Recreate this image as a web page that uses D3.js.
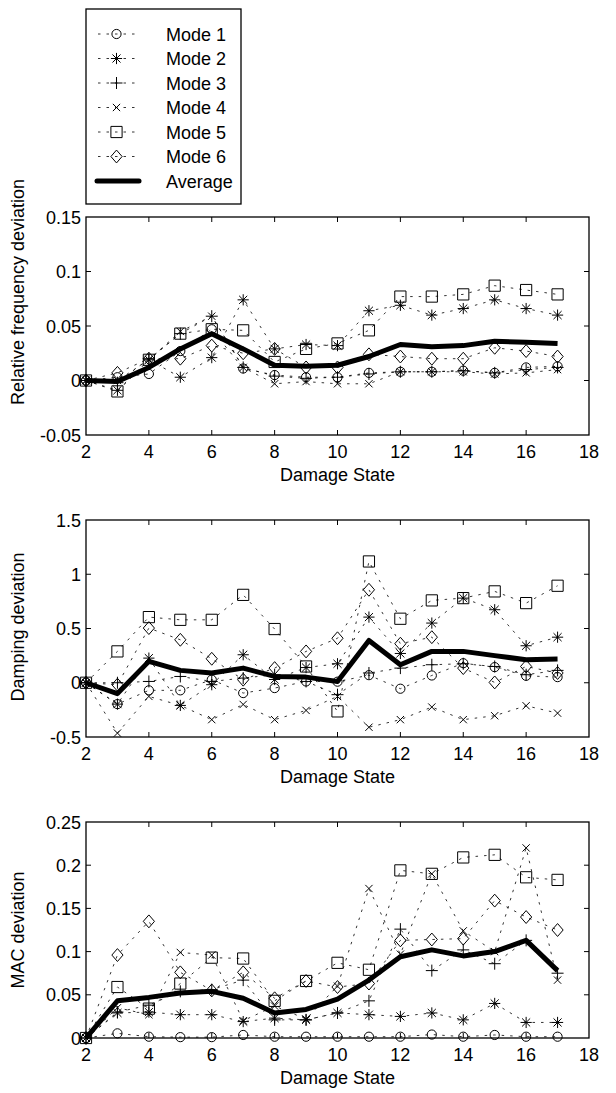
<!DOCTYPE html>
<html>
<head>
<meta charset="utf-8">
<script src="https://cdn.jsdelivr.net/npm/d3@7"></script>
<style>
  body { margin: 0; background: #fff; }
  svg text { font-family: "Liberation Sans", Arial, sans-serif; fill: #000; }
</style>
</head>
<body>
<svg id="chart" width="616" height="1093"></svg>
<script>
// damage states on the x axis
const states = [2, 3, 4, 5, 6, 7, 8, 9, 10, 11, 12, 13, 14, 15, 16, 17]
const xTicks = [2, 4, 6, 8, 10, 12, 14, 16, 18]
const modeNames = ['Mode 1', 'Mode 2', 'Mode 3', 'Mode 4', 'Mode 5', 'Mode 6']

// relative frequency deviation
const freqMode1 = [0, 0.003, 0.006, 0.027, 0.047, 0.011, 0.005, 0.003, 0.003, 0.007, 0.008, 0.008, 0.009, 0.007, 0.012, 0.013]
const freqMode2 = [0, -0.009, 0.019, 0.003, 0.021, 0.074, 0.029, 0.033, 0.032, 0.064, 0.069, 0.060, 0.066, 0.074, 0.066, 0.060]
const freqMode3 = [0, -0.002, 0.020, 0.043, 0.059, 0.012, 0.004, 0.002, 0.003, 0.006, 0.008, 0.008, 0.009, 0.007, 0.010, 0.012]
const freqMode4 = [0, 0, 0.019, 0.045, 0.059, 0.012, -0.003, -0.001, -0.003, -0.003, 0.008, 0.008, 0.008, 0.006, 0.007, 0.010]
const freqMode5 = [0, -0.010, 0.019, 0.043, 0.047, 0.046, 0.017, 0.029, 0.034, 0.046, 0.077, 0.077, 0.079, 0.087, 0.083, 0.079]
const freqMode6 = [0, 0.007, 0.020, 0.020, 0.032, 0.025, 0.029, 0.012, 0.012, 0.024, 0.022, 0.020, 0.020, 0.030, 0.027, 0.022]
const freqAvg = [0, -0.001, 0.012, 0.029, 0.043, 0.029, 0.014, 0.013, 0.014, 0.022, 0.033, 0.031, 0.032, 0.036, 0.035, 0.034]
const freqTicks = [-0.05, 0, 0.05, 0.1, 0.15]

// damping deviation
const dampMode1 = [0, -0.197, -0.07, -0.07, 0.028, -0.095, -0.049, 0.012, 0.010, 0.070, -0.055, 0.067, 0.180, 0.144, 0.064, 0.052]
const dampMode2 = [0, -0.197, 0.227, -0.209, -0.018, 0.258, 0.030, 0.140, 0.175, 0.605, 0.270, 0.550, 0.780, 0.673, 0.341, 0.420]
const dampMode3 = [0, 0, 0.012, 0.058, 0.012, 0.043, 0.074, 0.012, -0.110, 0.090, 0.135, 0.166, 0.175, 0.150, 0.074, 0.114]
const dampMode4 = [0, -0.464, -0.126, -0.209, -0.340, -0.200, -0.340, -0.255, -0.126, -0.410, -0.340, -0.224, -0.340, -0.304, -0.212, -0.280]
const dampMode5 = [0, 0.289, 0.605, 0.580, 0.580, 0.810, 0.495, 0.150, -0.264, 1.118, 0.590, 0.759, 0.780, 0.842, 0.734, 0.894]
const dampMode6 = [0, -0.018, 0.504, 0.396, 0.221, 0.028, 0.135, 0.289, 0.410, 0.857, 0.360, 0.420, 0.135, 0.003, 0.150, 0.090]
const dampAvg = [0, -0.100, 0.197, 0.114, 0.090, 0.135, 0.058, 0.052, 0.012, 0.390, 0.166, 0.289, 0.289, 0.250, 0.212, 0.218]
const dampTicks = [-0.5, 0, 0.5, 1, 1.5]

// MAC deviation
const macMode1 = [0, 0.0054, 0.0015, 0.001, 0.001, 0.0035, 0.0015, 0.0015, 0.0015, 0.0015, 0.0015, 0.004, 0.0015, 0.0035, 0.0015, 0.0015]
const macMode2 = [0, 0.029, 0.030, 0.027, 0.027, 0.019, 0.023, 0.021, 0.029, 0.027, 0.025, 0.029, 0.021, 0.040, 0.018, 0.018]
const macMode3 = [0, 0.030, 0.038, 0.054, 0.056, 0.067, 0.021, 0.021, 0.029, 0.043, 0.126, 0.078, 0.102, 0.086, 0.113, 0.075]
const macMode4 = [0, 0.035, 0.027, 0.099, 0.096, 0.020, 0.037, 0.022, 0.060, 0.173, 0.097, 0.190, 0.124, 0.100, 0.220, 0.067]
const macMode5 = [0, 0.059, 0.034, 0.063, 0.093, 0.092, 0.043, 0.066, 0.087, 0.079, 0.194, 0.190, 0.209, 0.212, 0.186, 0.183]
const macMode6 = [0, 0.096, 0.135, 0.076, 0.055, 0.076, 0.046, 0.066, 0.059, 0.063, 0.113, 0.114, 0.115, 0.159, 0.140, 0.125]
const macAvg = [0, 0.043, 0.047, 0.052, 0.054, 0.046, 0.029, 0.033, 0.045, 0.067, 0.094, 0.102, 0.095, 0.100, 0.113, 0.078]
const macTicks = [0, 0.05, 0.1, 0.15, 0.2, 0.25]

const panels = [
  { top: 217, bottom: 435, labelY: 292, ticks: freqTicks, label: 'Relative frequency deviation',
    modes: [freqMode1, freqMode2, freqMode3, freqMode4, freqMode5, freqMode6], avg: freqAvg },
  { top: 520, bottom: 737, labelY: 627, ticks: dampTicks, label: 'Damping deviation',
    modes: [dampMode1, dampMode2, dampMode3, dampMode4, dampMode5, dampMode6], avg: dampAvg },
  { top: 822, bottom: 1038, labelY: 930, ticks: macTicks, label: 'MAC deviation',
    modes: [macMode1, macMode2, macMode3, macMode4, macMode5, macMode6], avg: macAvg }
]

const left = 86, right = 589
const fontSize = 18
const svg = d3.select('#chart')

// marker glyphs, drawn as open strokes like the matlab ones
const markerPaths = [
  null, // circle handled separately
  s => { const d = s * 0.72; return `M${-s},0H${s}M0,${-s}V${s}M${-d},${-d}L${d},${d}M${-d},${d}L${d},${-d}` },
  s => `M${-s},0H${s}M0,${-s}V${s}`,
  s => { const d = s * 0.7; return `M${-d},${-d}L${d},${d}M${-d},${d}L${d},${-d}` },
  s => `M${-s},${-s}H${s}V${s}H${-s}Z`,
  s => `M0,${-s * 1.15}L${s},0L0,${s * 1.15}L${-s},0Z`
]
const markerSize = [4.6, 5.6, 6, 5.2, 5.6, 5.6]

function drawMarker(g, i, cx, cy) {
  if (i === 0) {
    g.append('circle').attr('cx', cx).attr('cy', cy).attr('r', markerSize[0])
      .attr('fill', 'none').attr('stroke', '#000').attr('stroke-width', 1)
  } else {
    g.append('path').attr('d', markerPaths[i](markerSize[i]))
      .attr('transform', `translate(${cx},${cy})`)
      .attr('fill', 'none').attr('stroke', '#000').attr('stroke-width', 1)
  }
}

const x = d3.scaleLinear().domain([2, 18]).range([left, right])

panels.forEach(p => {
  const y = d3.scaleLinear().domain([p.ticks[0], p.ticks[p.ticks.length - 1]]).range([p.bottom, p.top])
  const g = svg.append('g')

  // box
  g.append('rect').attr('x', left).attr('y', p.top)
    .attr('width', right - left).attr('height', p.bottom - p.top)
    .attr('fill', 'none').attr('stroke', '#000').attr('stroke-width', 1.3)

  // inward ticks on all four sides
  xTicks.slice(1, -1).forEach(t => {
    g.append('line').attr('x1', x(t)).attr('x2', x(t)).attr('y1', p.bottom).attr('y2', p.bottom - 5).attr('stroke', '#000')
    g.append('line').attr('x1', x(t)).attr('x2', x(t)).attr('y1', p.top).attr('y2', p.top + 5).attr('stroke', '#000')
  })
  p.ticks.slice(1, -1).forEach(t => {
    g.append('line').attr('x1', left).attr('x2', left + 5).attr('y1', y(t)).attr('y2', y(t)).attr('stroke', '#000')
    g.append('line').attr('x1', right).attr('x2', right - 5).attr('y1', y(t)).attr('y2', y(t)).attr('stroke', '#000')
  })

  // tick labels
  g.selectAll('.xt').data(xTicks).enter().append('text')
    .attr('x', d => x(d)).attr('y', p.bottom + 23)
    .attr('text-anchor', 'middle').attr('font-size', fontSize)
    .text(d => d)
  g.selectAll('.yt').data(p.ticks).enter().append('text')
    .attr('x', left - 5).attr('y', d => y(d) + 6.5)
    .attr('text-anchor', 'end').attr('font-size', fontSize)
    .text(d => String(d))

  g.append('text').attr('x', (left + right) / 2).attr('y', p.bottom + 46)
    .attr('text-anchor', 'middle').attr('font-size', fontSize).text('Damage State')
  g.append('text')
    .attr('transform', `translate(24,${p.labelY}) rotate(-90)`)
    .attr('text-anchor', 'middle').attr('font-size', fontSize).text(p.label)

  // dotted mode lines with markers
  const line = d3.line().x((d, i) => x(states[i])).y(d => y(d))
  p.modes.forEach((vals, mi) => {
    g.append('path').datum(vals).attr('d', line)
      .attr('fill', 'none').attr('stroke', '#000').attr('stroke-width', 0.8)
      .attr('stroke-dasharray', '2.5,6')
    vals.forEach((v, i) => drawMarker(g, mi, x(states[i]), y(v)))
  })

  // thick average
  g.append('path').datum(p.avg).attr('d', line)
    .attr('fill', 'none').attr('stroke', '#000').attr('stroke-width', 5)
    .attr('stroke-linejoin', 'round')
})

// legend
const legend = svg.append('g')
legend.append('rect').attr('x', 86).attr('y', 9).attr('width', 155).attr('height', 195)
  .attr('fill', '#fff').attr('stroke', '#000').attr('stroke-width', 1.3)
const rowY = i => 34 + i * 24.5
modeNames.forEach((name, i) => {
  legend.append('line').attr('x1', 97).attr('x2', 136).attr('y1', rowY(i)).attr('y2', rowY(i))
    .attr('stroke', '#000').attr('stroke-width', 0.8).attr('stroke-dasharray', '2.5,6')
    .attr('stroke-dashoffset', -1)
  drawMarker(legend, i, 116.5, rowY(i))
  legend.append('text').attr('x', 166).attr('y', rowY(i) + 6.5)
    .attr('font-size', fontSize).text(name)
})
legend.append('line').attr('x1', 97).attr('x2', 139).attr('y1', rowY(6)).attr('y2', rowY(6))
  .attr('stroke', '#000').attr('stroke-width', 5).attr('stroke-linecap', 'round')
legend.append('text').attr('x', 166).attr('y', rowY(6) + 6.5)
  .attr('font-size', fontSize).text('Average')
</script>
</body>
</html>
